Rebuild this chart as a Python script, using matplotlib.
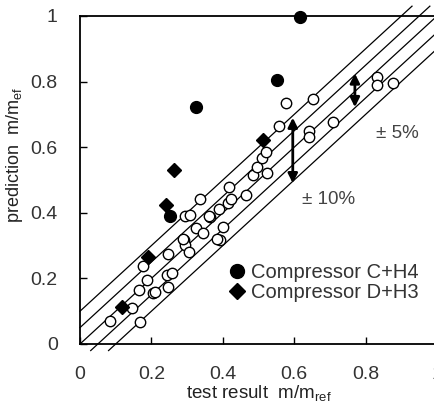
import matplotlib.pyplot as plt
from matplotlib.lines import Line2D

plt.rcParams['font.family'] = ['Liberation Sans', 'DejaVu Sans']

# open circles (all compressors)
open_x = [0.084, 0.168, 0.145, 0.165, 0.205, 0.209, 0.247, 0.187, 0.243, 0.259,
          0.176, 0.246, 0.290, 0.294, 0.306, 0.325, 0.345, 0.294, 0.308, 0.336,
          0.364, 0.389, 0.392, 0.400, 0.415, 0.417, 0.423, 0.464, 0.484, 0.495,
          0.509, 0.520, 0.523, 0.557, 0.577, 0.652, 0.642, 0.642, 0.708, 0.831,
          0.831, 0.876, 0.361, 0.385, 0.288]
open_y = [0.071, 0.067, 0.109, 0.165, 0.156, 0.160, 0.173, 0.195, 0.209, 0.217,
          0.238, 0.274, 0.317, 0.302, 0.281, 0.353, 0.337, 0.390, 0.393, 0.442,
          0.388, 0.411, 0.317, 0.358, 0.429, 0.480, 0.442, 0.454, 0.515, 0.541,
          0.566, 0.586, 0.520, 0.665, 0.734, 0.747, 0.650, 0.630, 0.676, 0.815,
          0.790, 0.797, 0.391, 0.319, 0.319]

# Compressor C+H4
c_x = [0.616, 0.551, 0.324, 0.252]
c_y = [0.998, 0.805, 0.722, 0.390]

# Compressor D+H3
d_x = [0.264, 0.240, 0.512, 0.190, 0.117]
d_y = [0.530, 0.424, 0.622, 0.266, 0.112]

offsets = [0.1, 0.05, 0.0, -0.05, -0.1]

fig = plt.figure(figsize=(4.35, 4.07), dpi=100)
ax = fig.add_axes([80/435, 63/407, 357/435, 328/407])
ax.set_xlim(0, 1)
ax.set_ylim(0, 1)

for c in offsets:
    x0 = max(0.0, -0.02 - c)
    x1 = 1.03 - c
    ax.plot([x0, x1], [x0 + c, x1 + c], color='black', linewidth=0.9, clip_on=False, zorder=1)

ax.plot(open_x, open_y, 'o', mfc='white', mec='black', mew=1.0, ms=7.5, zorder=3)
ax.plot(c_x, c_y, 'o', color='black', ms=8.5, clip_on=False, zorder=4)
ax.plot(d_x, d_y, 'D', color='black', ms=7, zorder=4)

# error arrows
ax.annotate('', xy=(0.596, 0.69), xytext=(0.596, 0.49),
            arrowprops=dict(arrowstyle='<|-|>', color='black', lw=2, mutation_scale=14, shrinkA=0, shrinkB=0))
ax.annotate('', xy=(0.77, 0.825), xytext=(0.77, 0.722),
            arrowprops=dict(arrowstyle='<|-|>', color='black', lw=2, mutation_scale=14, shrinkA=0, shrinkB=0))
ax.text(0.83, 0.643, '± 5%', fontsize=13.5, color='#444444', va='center')
ax.text(0.623, 0.44, '± 10%', fontsize=13.5, color='#444444', va='center')

handles = [Line2D([], [], marker='o', color='black', ls='none', ms=10),
           Line2D([], [], marker='D', color='black', ls='none', ms=8)]
ax.legend(handles, ['Compressor C+H4', 'Compressor D+H3'], loc='upper left',
          bbox_to_anchor=(0.39, 0.277), frameon=False, fontsize=14.5,
          handlelength=0.8, handletextpad=0.3, labelspacing=0.05, borderpad=0,
          labelcolor='#333333')

ax.set_xticks([0, 0.2, 0.4, 0.6, 0.8, 1.0])
ax.set_xticklabels(['0', '0.2', '0.4', '0.6', '0.8', '1'])
ax.set_yticks([0, 0.2, 0.4, 0.6, 0.8, 1.0])
ax.set_yticklabels(['0', '0.2', '0.4', '0.6', '0.8', '1'])
ax.tick_params(direction='in', length=5, width=1, labelsize=14, labelcolor='#333333')
ax.tick_params(axis='x', pad=16)
ax.tick_params(axis='y', pad=16)
for s in ax.spines.values():
    s.set_linewidth(1.3)

ax.set_xlabel('test result  m/m$_{\\mathregular{ref}}$', fontsize=13.5, color='#222222', labelpad=0)
ax.set_ylabel('prediction  m/m$_{\\mathregular{ef}}$', fontsize=13, color='#222222')
ax.yaxis.set_label_coords(-0.155, 0.575)

fig.savefig('out.png', dpi=100)
